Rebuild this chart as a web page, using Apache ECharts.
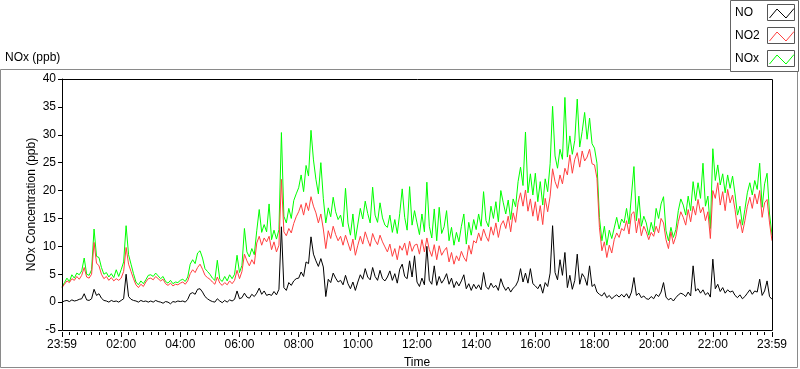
<!DOCTYPE html>
<html><head><meta charset="utf-8">
<script src="https://cdn.jsdelivr.net/npm/echarts/dist/echarts.min.js"></script>
<style>html,body{margin:0;padding:0;background:#fff}#c{width:800px;height:369px}</style>
</head><body><div id="c"></div>
<script>
// Sampling step of the readings (minutes after 23:59/00:00)
const stepMinutes = 5;

const no2 = [
 2.6,3.2,3.8,3.5,4.2,3.9,4.6,4.1,4.8,6.2,4.5,4.3,
 5.0,10.7,7.0,6.5,5.0,4.2,4.6,3.9,4.4,3.8,4.2,3.9,
 4.3,5.5,9.8,6.8,5.5,4.2,3.1,2.6,3.2,2.8,3.6,4.2,
 4.3,4.0,4.6,4.2,3.8,4.1,3.3,3.0,3.4,2.9,3.2,3.1,
 3.4,3.6,3.2,3.8,5.1,5.8,5.3,6.2,6.8,5.9,4.8,4.4,
 4.1,3.6,3.2,4.5,3.4,3.0,3.5,3.1,3.8,3.3,3.9,5.7,
 4.2,5.5,8.6,7.4,6.5,7.6,6.8,10.6,11.8,10.2,11.5,10.8,
 11.8,9.4,10.8,9.0,10.2,22.0,12.6,11.9,13.2,12.4,14.1,15.3,
 16.2,17.5,15.6,17.8,16.4,18.9,17.2,16.0,14.2,15.8,13.1,9.6,
 12.8,11.4,13.6,12.1,11.0,11.8,10.2,12.0,10.6,9.2,11.3,8.4,
 10.2,11.8,10.4,12.6,11.2,10.0,12.3,11.1,10.3,12.0,10.8,9.9,
 9.0,10.4,8.2,9.6,7.6,10.1,9.3,10.6,8.4,10.9,9.1,10.2,
 10.4,8.6,11.2,9.0,11.5,9.4,8.2,10.3,7.6,10.1,8.4,9.2,
 9.8,7.2,8.9,6.8,8.3,7.4,9.1,8.0,7.3,10.2,8.6,11.0,
 10.6,12.4,11.0,13.1,11.8,10.9,13.5,12.0,14.2,11.6,13.8,14.6,
 13.2,15.4,12.6,16.0,14.3,17.8,19.6,17.2,20.1,16.3,18.5,15.4,
 18.0,14.6,17.3,13.9,18.6,16.2,19.0,23.9,21.6,20.4,22.8,21.2,
 24.0,22.8,26.4,23.1,25.6,26.8,24.2,27.1,25.3,26.0,27.4,24.8,
 24.6,22.2,13.4,9.2,10.8,8.0,10.2,8.8,11.2,12.4,11.6,13.2,
 12.8,14.6,12.2,15.8,16.2,12.4,15.0,11.9,13.6,12.6,11.2,12.5,
 11.8,13.6,12.4,15.0,14.2,11.2,9.6,12.6,10.4,11.8,14.4,16.2,
 15.2,13.8,16.6,14.4,17.2,15.6,18.4,16.0,17.0,14.6,16.2,11.4,
 20.0,18.6,21.4,17.4,19.8,16.4,20.2,17.8,19.2,16.6,13.2,14.8,
 12.4,14.6,17.2,18.8,16.8,19.4,17.6,20.0,15.2,17.8,18.4,14.2,11.0
];

const nox = [
 2.7,3.5,4.3,3.7,4.9,4.3,5.2,4.9,5.6,7.9,5.0,4.8,
 5.8,13.1,8.2,8.0,6.2,5.0,5.3,4.5,5.1,4.4,5.8,4.6,
 5.8,7.2,13.7,8.5,6.8,5.1,3.6,3.1,3.8,3.3,4.0,4.8,
 4.9,4.6,5.2,4.7,4.2,4.6,3.7,3.4,3.9,3.3,3.6,3.5,
 3.9,4.1,3.7,4.5,6.8,7.6,6.9,8.8,9.2,7.9,6.0,5.5,
 5.0,4.3,3.9,7.5,4.1,3.7,4.6,3.8,4.9,4.2,5.0,8.4,
 5.3,6.6,13.2,9.0,8.1,9.6,8.5,12.8,16.6,12.5,13.9,12.6,
 17.6,11.2,12.9,11.3,13.0,30.4,15.4,14.2,16.8,15.0,18.2,19.4,
 20.5,22.8,19.8,24.5,22.6,30.8,25.5,22.0,19.4,25.0,18.6,14.2,
 16.9,15.3,18.8,16.2,14.8,15.6,13.5,20.4,14.2,12.0,15.8,11.2,
 14.0,16.8,14.9,18.1,15.9,14.2,20.6,15.6,14.3,17.8,15.1,13.8,
 13.4,15.6,12.5,14.8,12.3,15.9,20.3,15.2,12.9,20.7,13.8,16.4,
 14.2,12.1,15.8,12.6,21.5,13.6,11.5,16.7,11.0,17.0,12.3,13.5,
 16.4,11.0,13.4,10.2,12.5,10.8,13.6,15.8,10.4,14.3,12.0,14.8,
 13.0,15.8,13.6,19.8,14.6,13.5,17.2,15.0,18.0,14.4,20.0,17.8,
 15.8,18.3,14.8,18.5,17.1,21.6,24.2,20.9,30.5,19.6,23.0,19.2,
 23.1,18.0,21.6,17.4,22.1,19.8,24.8,35.1,26.2,24.0,27.4,25.6,
 36.7,26.0,29.8,26.5,29.0,36.4,27.8,30.6,34.0,29.2,33.0,28.4,
 27.6,24.9,15.2,11.0,13.6,10.2,12.9,11.4,13.3,15.2,13.1,14.9,
 14.2,16.8,14.0,19.2,24.3,14.6,19.0,13.6,15.4,14.2,12.0,14.3,
 12.6,16.8,15.0,17.6,18.9,12.8,11.0,13.4,11.6,13.0,16.4,18.5,
 17.4,15.6,19.0,16.4,21.6,18.2,21.4,18.6,24.9,17.2,19.0,13.2,
 27.5,21.8,24.6,21.0,23.0,19.6,22.8,20.4,22.6,19.4,15.6,17.2,
 13.8,16.6,19.6,21.4,19.2,21.8,20.2,24.9,17.0,21.2,23.1,15.8,12.0
];

const no = [
 0.0,0.2,0.3,0.1,0.4,0.2,0.3,0.5,0.6,1.5,0.4,0.3,
 0.6,2.3,1.2,1.5,0.7,0.3,0.2,0.0,0.3,0.1,0.2,0.0,
 0.3,0.6,5.0,1.0,0.5,0.3,0.2,0.0,0.3,0.1,0.2,0.0,
 0.2,0.0,0.3,0.1,0.0,-0.2,0.1,0.0,-0.3,0.1,0.0,0.2,
 0.1,0.2,0.0,0.5,1.5,1.7,1.4,2.3,2.4,1.8,1.0,0.6,
 0.3,0.1,0.0,0.6,0.2,-0.1,0.3,0.0,0.4,0.2,0.5,2.0,
 0.6,0.8,1.6,0.9,0.7,1.4,1.0,1.6,2.5,1.4,2.0,1.2,
 1.4,1.2,1.9,1.3,2.3,13.5,2.6,2.1,3.5,3.0,3.8,4.2,
 4.3,5.4,4.6,7.2,6.9,11.7,8.6,7.4,6.4,7.8,6.3,1.0,
 4.1,3.5,5.2,4.3,3.6,3.9,3.1,4.8,3.3,2.4,3.6,2.1,
 3.6,4.9,4.1,6.0,4.5,4.0,6.2,4.6,3.9,5.7,4.2,3.8,
 4.5,5.6,3.9,5.1,3.4,5.9,6.8,4.6,4.2,7.4,4.5,8.3,
 3.6,2.8,4.3,3.1,10.0,3.9,3.2,6.5,3.0,4.6,3.4,4.1,
 5.1,3.2,4.3,2.6,3.7,2.9,3.8,4.9,2.4,3.3,2.1,3.2,
 2.4,3.1,2.2,5.3,2.8,2.3,3.4,2.6,3.0,2.1,4.2,2.9,
 2.1,2.7,1.8,2.5,2.9,3.8,6.0,3.6,5.2,3.4,6.0,3.3,
 2.9,2.4,3.2,1.6,3.5,2.8,5.2,13.7,5.3,4.0,7.6,4.8,
 8.9,2.6,4.8,2.3,3.9,8.6,3.2,5.1,4.4,3.0,6.5,2.8,
 3.2,1.8,1.4,1.1,1.7,0.8,1.2,0.6,1.0,1.3,0.9,1.4,
 0.9,1.5,0.7,1.8,4.4,1.2,1.6,0.8,1.1,0.6,0.5,1.0,
 0.6,1.4,1.0,1.8,3.5,0.9,0.4,0.7,0.2,0.8,1.3,1.6,
 1.4,1.0,1.8,1.1,6.5,2.0,2.4,1.6,2.2,1.3,1.7,0.9,
 7.7,2.4,3.2,1.9,2.6,1.6,2.2,1.8,2.0,1.2,0.8,1.3,
 0.6,1.0,1.6,2.2,1.4,2.0,1.8,4.1,1.2,2.0,3.8,1.0,0.5
];

const xTickLabels = ['23:59','02:00','04:00','06:00','08:00','10:00','12:00','14:00','16:00','18:00','20:00','22:00','23:59'];
const seriesNames = ['NO','NO2','NOx'];
const seriesColors = ['#000000','#ff4040','#00ff00'];
const chartTitle = 'NOx (ppb)';
const yName = 'NOx Concentration (ppb)';
const xName = 'Time';

const FONT = 'Liberation Sans';
const pairs = arr => arr.map((v, i) => [i * stepMinutes, v]);

const chart = echarts.init(document.getElementById('c'), null, {renderer: 'canvas'});

function legendItems() {
  const items = [];
  items.push({type:'rect', z:20, shape:{x:730.5,y:0.5,width:68,height:71}, style:{fill:'#fff', stroke:'#646464', lineWidth:1}});
  const rowsY = [13, 36, 59];
  seriesNames.forEach((nm, k) => {
    const cy = rowsY[k];
    items.push({type:'text', z:21, style:{text:nm, x:735, y:cy, fill:'#000', font:'12px "'+FONT+'"', textVerticalAlign:'middle', verticalAlign:'middle'}});
    items.push({type:'rect', z:21, shape:{x:767.5,y:cy-8.5,width:27,height:16}, style:{fill:'#fff', stroke:'#555', lineWidth:1}});
    items.push({type:'polyline', z:22, shape:{points:[[769.5,cy+5],[777,cy-4],[786,cy+5],[794,cy-4.5]]}, style:{stroke:seriesColors[k], lineWidth:1, fill:null}});
  });
  return items;
}

chart.setOption({
  animation: false,
  backgroundColor: '#fff',
  textStyle: {fontFamily: FONT},
  grid: {left: 62, right: 28, top: 79, bottom: 39, show: false, containLabel: false, outerBoundsMode: 'none'},
  xAxis: {
    type: 'value', min: 0, max: 1440, interval: 120, offset: 2,
    name: xName, nameLocation: 'middle', nameGap: 25, nameMoveOverlap: false,
    nameTextStyle: {color:'#000', fontSize: 12, fontFamily: FONT},
    axisLine: {show: false, onZero: false},
    axisTick: {show: true, inside: false, length: 5, lineStyle: {color:'#000'}},
    minorTick: {show: true, splitNumber: 8, length: 3, lineStyle: {color:'#000'}},
    splitLine: {show: false},
    axisLabel: {color:'#000', fontSize: 12, fontFamily: FONT, margin: 7,
      formatter: v => xTickLabels[Math.round(v / 120)] || ''}
  },
  yAxis: {
    type: 'value', min: -5, max: 40, interval: 5,
    name: yName, nameLocation: 'middle', nameGap: 24, nameMoveOverlap: false,
    nameTextStyle: {color:'#000', fontSize: 12, fontFamily: FONT},
    axisLine: {show: true, onZero: false, lineStyle: {color:'#000'}},
    axisTick: {show: true, length: 4, lineStyle: {color:'#000'}},
    splitLine: {show: false},
    axisLabel: {color:'#000', fontSize: 12, fontFamily: FONT, margin: 6}
  },
  series: [
    {name: 'NOx', type: 'line', data: pairs(nox), showSymbol: false, symbol: 'none', lineStyle: {color: seriesColors[2], width: 1}, itemStyle:{color: seriesColors[2]}},
    {name: 'NO2', type: 'line', data: pairs(no2), showSymbol: false, symbol: 'none', lineStyle: {color: seriesColors[1], width: 1}, itemStyle:{color: seriesColors[1]}},
    {name: 'NO', type: 'line', data: pairs(no), showSymbol: false, symbol: 'none', lineStyle: {color: seriesColors[0], width: 1}, itemStyle:{color: seriesColors[0]}}
  ],
  graphic: [
    {type:'rect', z:0, silent:true, shape:{x:0.5,y:69.5,width:797,height:298}, style:{fill:null, stroke:'#8a8a8a', lineWidth:1}},
    {type:'rect', z:10, silent:true, shape:{x:62.5,y:79.5,width:710,height:251}, style:{fill:null, stroke:'#000', lineWidth:1}},
    {type:'text', z:10, style:{text: chartTitle, x:5, y:58, fill:'#000', font:'12px "'+FONT+'"', textVerticalAlign:'middle', verticalAlign:'middle'}}
  ].concat(legendItems())
});
</script>
</body></html>
